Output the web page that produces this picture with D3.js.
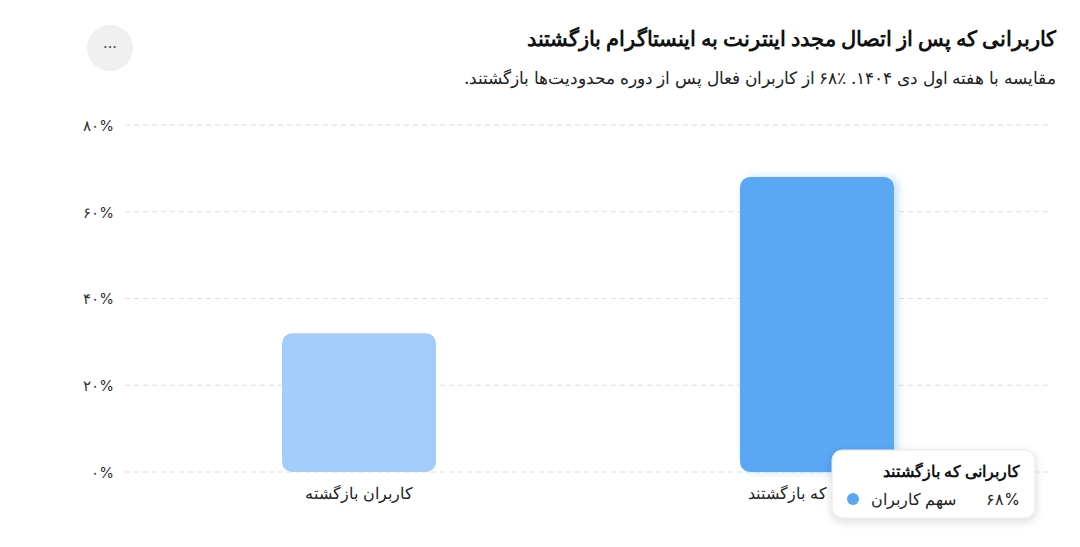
<!DOCTYPE html>
<html><head><meta charset="utf-8">
<script src="https://cdn.jsdelivr.net/npm/d3@7"></script>
<style>body{margin:0;background:#fff;font-family:Inter,"Noto Sans",sans-serif}</style>
</head><body><svg id="c" width="1080" height="547"></svg>
<script>
const categories = ["کاربران بازگشته", "کاربرانی که بازگشتند"];
const values = [32, 68];
const tickValues = [0, 20, 40, 60, 80];
const tickLabels = ["۰%", "۲۰%", "۴۰%", "۶۰%", "۸۰%"];
const colors = ["#a3cdfb", "#5aa7f4"];
const title = "کاربرانی که پس از اتصال مجدد اینترنت به اینستاگرام بازگشتند";
const subtitle = "مقایسه با هفته اول دی ۱۴۰۴. ٪۶۸ از کاربران فعال پس از دوره محدودیت‌ها بازگشتند.";
const tipTitle = "کاربرانی که بازگشتند", tipSeries = "سهم کاربران", tipValue = "۶۸%";

const svg = d3.select("#c");
const defs = svg.append("defs");
const f = defs.append("filter").attr("id","sh").attr("x","-20%").attr("y","-20%").attr("width","140%").attr("height","150%");
f.append("feDropShadow").attr("dx",0).attr("dy",3).attr("stdDeviation",5).attr("flood-color","#000").attr("flood-opacity",0.15);
const g2 = defs.append("filter").attr("id","gl").attr("x","-20%").attr("y","-20%").attr("width","140%").attr("height","140%");
g2.append("feDropShadow").attr("dx",4).attr("dy",0).attr("stdDeviation",4).attr("flood-color","#5aa7f4").attr("flood-opacity",0.35);

svg.append("text").attr("x",1056).attr("y",46).attr("text-anchor","start").attr("direction","rtl")
  .attr("font-size",21).attr("font-weight",700).attr("fill","#111").text(title);
svg.append("text").attr("x",1056).attr("y",84).attr("text-anchor","start").attr("direction","rtl")
  .attr("font-size",17).attr("fill","#222").text(subtitle);
svg.append("circle").attr("cx",110).attr("cy",48).attr("r",23).attr("fill","#f0f0f0");
svg.append("text").attr("x",110).attr("y",53).attr("text-anchor","middle").attr("font-size",16).attr("fill","#555").text("···");

const x = d3.scaleBand().domain(categories).range([130,1046]).padding(0);
const y = d3.scaleLinear().domain([0,80]).range([472,125]);
const bw = 154;

const grid = svg.append("g");
grid.selectAll("line").data(tickValues).join("line")
  .attr("x1",125).attr("x2",1052).attr("y1",d=>y(d)).attr("y2",d=>y(d))
  .attr("stroke","#dedede").attr("stroke-dasharray","5,4");
const ax = svg.append("g").attr("transform","translate(117,0)")
  .call(d3.axisLeft(y).tickValues(tickValues).tickFormat((d,i)=>tickLabels[i]).tickSize(0));
ax.select(".domain").remove();
ax.selectAll("text").attr("font-size",15).attr("fill","#333").attr("font-family","Inter,'Noto Sans',sans-serif").attr("dy","0.35em");

svg.selectAll("rect.bar").data(values).join("rect").attr("class","bar")
  .attr("x",(d,i)=>x(categories[i])+x.bandwidth()/2-bw/2).attr("width",bw)
  .attr("y",d=>y(d)).attr("height",d=>y(0)-y(d)).attr("rx",10)
  .attr("fill",(d,i)=>colors[i]).attr("filter",(d,i)=>i==1?"url(#gl)":null);

const xa = svg.append("g").attr("transform","translate(0,472)")
  .call(d3.axisBottom(x).tickSize(0));
xa.select(".domain").remove();
xa.selectAll("text").attr("font-size",16).attr("fill","#222").attr("dy","1.5em").attr("font-family","Inter,'Noto Sans',sans-serif");

const tip = svg.append("g").attr("transform","translate(832,450)");
tip.append("rect").attr("width",203).attr("height",68).attr("rx",10).attr("fill","#fff").attr("stroke","#e6e6e6").attr("filter","url(#sh)");
tip.append("text").attr("x",188).attr("y",27).attr("text-anchor","start").attr("direction","rtl").attr("font-size",16).attr("font-weight",700).attr("fill","#111").text(tipTitle);
tip.append("text").attr("x",188).attr("y",55).attr("text-anchor","end").attr("font-size",16).attr("fill","#222").text(tipValue);
tip.append("text").attr("x",124).attr("y",55).attr("text-anchor","start").attr("direction","rtl").attr("font-size",16).attr("fill","#222").text(tipSeries);
tip.append("circle").attr("cx",21).attr("cy",49).attr("r",6).attr("fill",colors[1]);
</script></body></html>
